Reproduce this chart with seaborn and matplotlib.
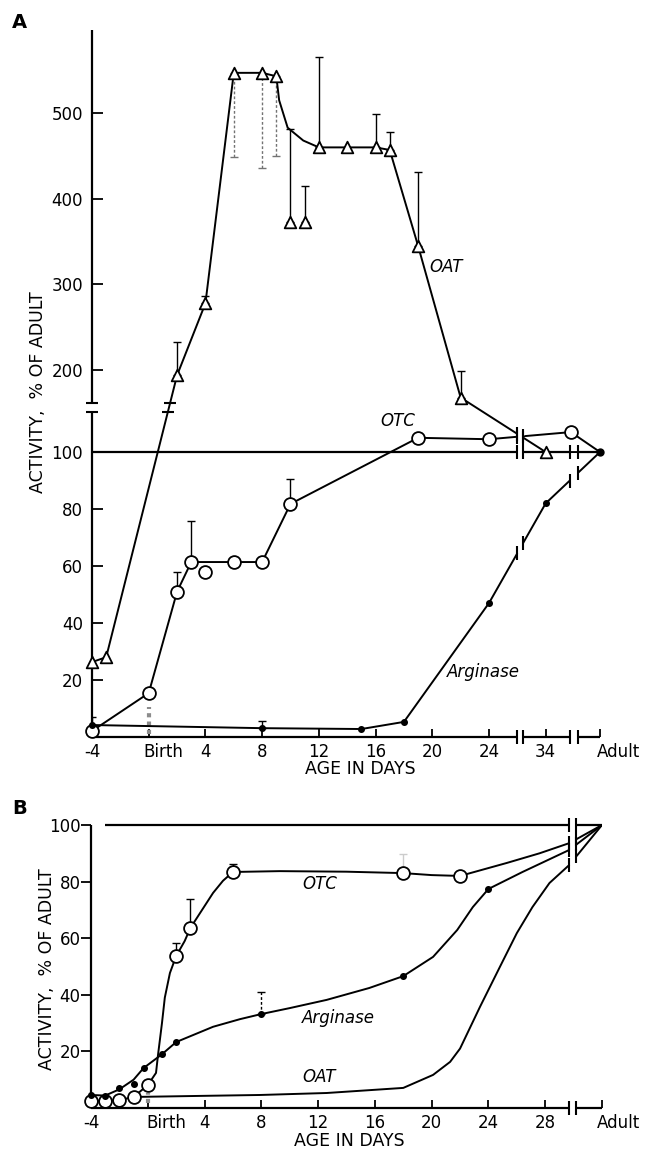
import numpy as np
import matplotlib
matplotlib.use("Agg")
import matplotlib.pyplot as plt
import matplotlib.transforms as mtransforms
import seaborn as sns

sns.set_style("white")
plt.rcParams["font.family"] = ["DejaVu Sans"]
plt.rcParams["font.size"] = 12
for key in ("text.color", "axes.labelcolor", "xtick.color", "ytick.color"):
    plt.rcParams[key] = "black"

ADULT = 60  # numeric stand-in for the "Adult" position on the day axis

# ---------------- Panel A data ----------------
A_OAT_DAYS = [-4, -3, 2, 4, 6, 8, 9, 12, 14, 16, 17, 19, 22, 34]
A_OAT_VALS = [26.3, 28, 194, 278, 547, 547, 543, 460, 460, 460, 457, 345, 168, 100]
A_OAT_LINE_DAYS = [-4, -3, 2, 4, 6, 8, 9, 9.2, 9.8, 10.9, 12, 14, 16, 17, 19, 22, 34, ADULT]
A_OAT_LINE_VALS = [26.3, 28, 194, 278, 547, 547, 543, 515, 483, 468, 460, 460, 460, 457, 345, 168, 100, 100]
A_OAT_LONE_DAYS = [10, 11]
A_OAT_LONE_VALS = [373, 373]
A_OAT_UP_DAYS = [2, 4, 10, 11, 12, 16, 17, 19, 22]
A_OAT_UP_BASE = [194, 278, 373, 373, 460, 460, 457, 345, 168]
A_OAT_UP_TOP = [233, 286, 482, 415, 565, 499, 478, 431, 199]
A_OAT_DN_DAYS = [6, 8, 9]
A_OAT_DN_BASE = [547, 547, 543]
A_OAT_DN_LOW = [449, 436, 450]

A_OTC_DAYS = [-4, 0, 2, 3, 6, 8, 10, 19, 24, 36]
A_OTC_VALS = [2.1, 15.4, 51, 61.4, 61.4, 61.4, 81.8, 105, 104.5, 107]
A_OTC_LONE_DAYS = [4]
A_OTC_LONE_VALS = [58]
A_OTC_UP_DAYS = [2, 3, 10]
A_OTC_UP_BASE = [51, 61.4, 81.8]
A_OTC_UP_TOP = [58, 75.8, 90.5]

A_ARG_DAYS = [-4, 8, 15, 18, 24, 34]
A_ARG_VALS = [4.2, 3.1, 2.8, 5.3, 47, 82]
A_ARG_UP_DAYS = [-4, 8]
A_ARG_UP_BASE = [4.2, 3.1]
A_ARG_UP_TOP = [7.0, 5.5]
A_BIRTH_RANGE = [1.0, 10.5]
ADULT_VALUE = 100

A_XTICKS = [-4, 0, 4, 8, 12, 16, 20, 24, 34, ADULT]
A_XLABELS = ["-4", "Birth", "4", "8", "12", "16", "20", "24", "34", "Adult"]
A_YTICKS = [20, 40, 60, 80, 100, 200, 300, 400, 500]

# ---------------- Panel B data ----------------
B_OTC_DAYS = [-4, -3, -2, -1, 0, 2, 3, 6, 18, 22]
B_OTC_VALS = [2.5, 2.5, 2.8, 3.9, 8.1, 53.7, 63.6, 83.4, 83, 82]
B_OTC_CURVE_DAYS = [-4, -3, -2, -1, 0, 0.58, 0.72, 1.0, 1.2, 1.56, 2, 2.6, 3, 4.6, 5.3, 6,
                    9.3, 14, 18, 20, 22, 25.3, 27.6, 29.7, ADULT]
B_OTC_CURVE_VALS = [2.5, 2.5, 2.8, 3.9, 8.1, 12.4, 18.7, 30, 39, 47.7, 53.7, 59, 63.6, 76, 80.3, 83.4,
                    83.7, 83.5, 83, 82.3, 82, 86.6, 90, 93.6, 100]
B_OTC_UP_DAYS = [2, 3, 6, 18]
B_OTC_UP_BASE = [53.7, 63.6, 83.4, 83]
B_OTC_UP_TOP = [58.3, 73.9, 86.2, 89.8]

B_ARG_DAYS = [-4, -3, -2, -1, -0.3, 1, 2, 8, 18, 24]
B_ARG_VALS = [4.6, 4.2, 7.1, 8.5, 14.1, 19, 23.3, 33.2, 46.6, 77.4]
B_ARG_CURVE_DAYS = [-4, -3, -2, -1, -0.3, 1, 2, 4.6, 6.5, 8, 10, 12.6, 15.6, 18, 20.1, 21.8,
                    22.9, 24, 26.4, 29.7, ADULT]
B_ARG_CURVE_VALS = [4.6, 4.4, 6.6, 10, 14.1, 19, 23.3, 28.7, 31.4, 33.2, 35.3, 38.2, 42.4, 46.6,
                    53.4, 62.9, 71, 77.4, 83.4, 91.2, 100]
B_ARG_UP_DAYS = [8]
B_ARG_UP_BASE = [33.2]
B_ARG_UP_TOP = [41]

B_OAT_CURVE_DAYS = [-1, 4, 7.9, 12.6, 18, 20.1, 21.3, 22, 23.4, 24.8, 26, 27.1, 28.3, 29.7, ADULT]
B_OAT_CURVE_VALS = [3.9, 4.3, 4.6, 5.3, 7.1, 11.7, 16.3, 21, 35.7, 49.8, 61.8, 71, 79.5, 85.9, 100]
B_BIRTH_RANGE = [1.8, 5.3]

B_XTICKS = [-4, 0, 4, 8, 12, 16, 20, 24, 28, ADULT]
B_XLABELS = ["-4", "Birth", "4", "8", "12", "16", "20", "24", "28", "Adult"]
B_YTICKS = [20, 40, 60, 80, 100]

# ---------------- axis breaks (layout) ----------------
A_X_KNOTS_DAY = [-100, 26, 32.4, 35.7, 38, ADULT, 200]
A_X_KNOTS_POS = [-100, 26, 26.4, 29.7, 30.27, 31.83, 171.83]
A_Y_BREAK = (114, 161.5)
A_Y_KNOTS_VAL = [-1000, 114, 161.5, 5000]
A_Y_KNOTS_POS = [-2850, 325, 334, 334 + (5000 - 161.5) * 0.857]
A_YMAX = 597

B_X_KNOTS_DAY = [-100, 29.7, 40, ADULT, 200]
B_X_KNOTS_POS = [-100, 29.7, 30.2, 32.0, 172]

INK = "black"
LW = 1.4


def interp_funcs(k_in, k_out):
    k_in = np.asarray(k_in, float)
    k_out = np.asarray(k_out, float)

    def fwd(v):
        return np.interp(np.asarray(v, float), k_in, k_out)

    def inv(v):
        return np.interp(np.asarray(v, float), k_out, k_in)
    return fwd, inv


def value_at(fx, fy, iy, days, vals, d):
    return float(iy(np.interp(fx(d), fx(days), fy(vals))))


def series_line(ax, days, vals):
    sns.lineplot(x=days, y=vals, ax=ax, color=INK, lw=LW, sort=False,
                 estimator=None, zorder=3)


def series_pts(ax, days, vals, marker, s, filled=False):
    sns.scatterplot(x=days, y=vals, ax=ax, marker=marker, s=s,
                    color=INK if filled else "white", edgecolor=INK,
                    linewidth=1.3, zorder=6, clip_on=False)


def up_bars(ax, days, base, top, color=INK, ls=None):
    base = np.asarray(base, float)
    top = np.asarray(top, float)
    eb = ax.errorbar(days, base, yerr=[np.zeros_like(base), top - base], fmt="none",
                     ecolor=color, elinewidth=1.0, capsize=3, capthick=1.0, zorder=2)
    if ls is not None:
        eb[2][0].set_linestyle(ls)


def down_bars(ax, days, base, low, color=INK, ls=None):
    base = np.asarray(base, float)
    low = np.asarray(low, float)
    eb = ax.errorbar(days, base, yerr=[base - low, np.zeros_like(base)], fmt="none",
                     ecolor=color, elinewidth=1.0, capsize=3, capthick=1.0, zorder=2)
    if ls is not None:
        eb[2][0].set_linestyle(ls)


def seg(ax, xs, ys, lw=1.6, color=INK, z=3):
    ax.plot(xs, ys, color=color, lw=lw, zorder=z, clip_on=False, solid_capstyle="butt")


def marks(ax, xs, ys, marker="|", ms=10):
    ax.plot(xs, ys, ls="none", marker=marker, ms=ms, mew=1.5, color=INK,
            zorder=5, clip_on=False)


def line_break(ax, fx, fy, iy, days, vals, d1, d2):
    y1 = value_at(fx, fy, iy, days, vals, d1)
    y2 = value_at(fx, fy, iy, days, vals, d2)
    seg(ax, [d1, d2], [y1, y2], lw=4, color="white", z=4)
    marks(ax, [d1, d2], [y1, y2])


def shift_label(ax, fig, idx, ha, dx_px):
    lab = ax.xaxis.get_major_ticks()[idx].label1
    lab.set_ha(ha)
    lab.set_transform(lab.get_transform() +
                      mtransforms.ScaledTranslation(dx_px / 100, 0, fig.dpi_scale_trans))


W, H = 647, 1152
fig = plt.figure(figsize=(W / 100, H / 100), dpi=100)

# =============== Panel A ===============
axA = fig.add_axes([92 / W, 1 - 737 / H, (600 - 92) / W, (737 - 30) / H])
fxA, ixA = interp_funcs(A_X_KNOTS_DAY, A_X_KNOTS_POS)
fyA, iyA = interp_funcs(A_Y_KNOTS_VAL, A_Y_KNOTS_POS)
axA.set_xscale("function", functions=(fxA, ixA))
axA.set_yscale("function", functions=(fyA, iyA))
for sp in axA.spines.values():
    sp.set_visible(False)

A_OTC_LINE_DAYS = A_OTC_DAYS + [ADULT]
A_OTC_LINE_VALS = A_OTC_VALS + [ADULT_VALUE]
A_ARG_LINE_DAYS = A_ARG_DAYS + [ADULT]
A_ARG_LINE_VALS = A_ARG_VALS + [ADULT_VALUE]

series_line(axA, A_OAT_LINE_DAYS, A_OAT_LINE_VALS)
series_line(axA, A_OTC_LINE_DAYS, A_OTC_LINE_VALS)
series_line(axA, A_ARG_LINE_DAYS, A_ARG_LINE_VALS)

up_bars(axA, A_OAT_UP_DAYS, A_OAT_UP_BASE, A_OAT_UP_TOP)
down_bars(axA, A_OAT_DN_DAYS, A_OAT_DN_BASE, A_OAT_DN_LOW, color="0.45", ls=(0, (2, 1.5)))
up_bars(axA, A_OTC_UP_DAYS, A_OTC_UP_BASE, A_OTC_UP_TOP)
up_bars(axA, A_ARG_UP_DAYS, A_ARG_UP_BASE, A_ARG_UP_TOP)
axA.plot([0, 0], A_BIRTH_RANGE, color="0.55", lw=3, ls=(0, (1, 1)), zorder=2)

# frame with breaks
b1, b2, b3, b4 = A_X_KNOTS_DAY[1:5]
for y in (0, ADULT_VALUE):
    seg(axA, [-4, b1], [y, y])
    seg(axA, [b2, b3], [y, y])
    seg(axA, [b4, ADULT], [y, y])
    marks(axA, [b1, b2, b3, b4], [y] * 4)
seg(axA, [-4, -4], [0, A_Y_BREAK[0]])
seg(axA, [-4, -4], [A_Y_BREAK[1], A_YMAX])
marks(axA, [-4, -4], list(A_Y_BREAK), marker="_", ms=9)

# break marks on series lines
line_break(axA, fxA, fyA, iyA, A_OTC_LINE_DAYS, A_OTC_LINE_VALS, b1, b2)
line_break(axA, fxA, fyA, iyA, A_OAT_LINE_DAYS, A_OAT_LINE_VALS, b1, b2)
line_break(axA, fxA, fyA, iyA, A_ARG_LINE_DAYS, A_ARG_LINE_VALS, b1, b2)
line_break(axA, fxA, fyA, iyA, A_ARG_LINE_DAYS, A_ARG_LINE_VALS, b3, b4)
# OAT line crossing the y break
for yb in A_Y_BREAK:
    xc = float(ixA(np.interp(fyA(yb), fyA(A_OAT_LINE_VALS[1:3]), fxA(A_OAT_LINE_DAYS[1:3]))))
    marks(axA, [xc], [yb], marker="_", ms=9)

series_pts(axA, A_OAT_DAYS, A_OAT_VALS, "^", 70)
series_pts(axA, A_OAT_LONE_DAYS, A_OAT_LONE_VALS, "^", 70)
series_pts(axA, A_OTC_DAYS, A_OTC_VALS, "o", 85)
series_pts(axA, A_OTC_LONE_DAYS, A_OTC_LONE_VALS, "o", 85)
series_pts(axA, A_ARG_DAYS, A_ARG_VALS, "o", 14, filled=True)
series_pts(axA, [ADULT], [ADULT_VALUE], "o", 22, filled=True)

axA.text(21.0, 320, "OAT", style="italic", ha="center", va="center", fontsize=12)
axA.text(17.6, 111, "OTC", style="italic", ha="center", va="center", fontsize=12)
axA.text(23.6, 22.8, "Arginase", style="italic", ha="center", va="center", fontsize=12)

axA.set_xlim(-4, ADULT)
axA.set_ylim(0, A_YMAX)
axA.set_xticks(A_XTICKS, A_XLABELS)
axA.set_yticks(A_YTICKS, [str(v) for v in A_YTICKS])
axA.minorticks_off()
axA.tick_params(axis="y", direction="in", length=8, width=1.3, pad=6.5, labelsize=12, left=True)
axA.tick_params(axis="x", direction="in", length=6, width=1.3, pad=4.3, labelsize=12, bottom=True)
axA.set_xlabel("")
axA.set_ylabel("")
shift_label(axA, fig, 1, "left", -5)
shift_label(axA, fig, len(A_XTICKS) - 1, "left", -3)

# =============== Panel B ===============
axB = fig.add_axes([91 / W, 1 - 1108 / H, (602 - 91) / W, (1108 - 825) / H])
fxB, ixB = interp_funcs(B_X_KNOTS_DAY, B_X_KNOTS_POS)
axB.set_xscale("function", functions=(fxB, ixB))
for sp in axB.spines.values():
    sp.set_visible(False)

series_line(axB, B_OTC_CURVE_DAYS, B_OTC_CURVE_VALS)
series_line(axB, B_ARG_CURVE_DAYS, B_ARG_CURVE_VALS)
series_line(axB, B_OAT_CURVE_DAYS, B_OAT_CURVE_VALS)

up_bars(axB, B_OTC_UP_DAYS[:3], B_OTC_UP_BASE[:3], B_OTC_UP_TOP[:3])
up_bars(axB, B_OTC_UP_DAYS[3:], B_OTC_UP_BASE[3:], B_OTC_UP_TOP[3:], color="0.8")
up_bars(axB, B_ARG_UP_DAYS, B_ARG_UP_BASE, B_ARG_UP_TOP, ls=(0, (2, 1.5)))
axB.plot([0, 0], B_BIRTH_RANGE, color="0.55", lw=3, ls=(0, (1, 1)), zorder=2)

c1, c2 = B_X_KNOTS_DAY[1:3]
fyB = lambda v: np.asarray(v, float)
seg(axB, [-4, c1], [0, 0])
seg(axB, [c2, ADULT], [0, 0])
marks(axB, [c1, c2], [0, 0])
seg(axB, [-3, c1], [ADULT_VALUE, ADULT_VALUE])
seg(axB, [c2, ADULT], [ADULT_VALUE, ADULT_VALUE])
marks(axB, [c1, c2], [ADULT_VALUE, ADULT_VALUE])
seg(axB, [-4, -4], [0, 100])
for d, v in ((B_OTC_CURVE_DAYS, B_OTC_CURVE_VALS), (B_ARG_CURVE_DAYS, B_ARG_CURVE_VALS),
             (B_OAT_CURVE_DAYS, B_OAT_CURVE_VALS)):
    line_break(axB, fxB, fyB, fyB, d, v, c1, c2)

series_pts(axB, B_OTC_DAYS, B_OTC_VALS, "o", 85)
series_pts(axB, B_ARG_DAYS, B_ARG_VALS, "o", 14, filled=True)

axB.text(10.86, 79, "OTC", style="italic", ha="left", va="center", fontsize=12)
axB.text(10.86, 31.8, "Arginase", style="italic", ha="left", va="center", fontsize=12)
axB.text(10.86, 11, "OAT", style="italic", ha="left", va="center", fontsize=12)

axB.set_xlim(-4, ADULT)
axB.set_ylim(0, 100)
axB.set_xticks(B_XTICKS, B_XLABELS)
axB.set_yticks(B_YTICKS, [str(v) for v in B_YTICKS])
axB.minorticks_off()
axB.tick_params(axis="y", direction="out", length=7, width=1.3, pad=0.5, labelsize=12, left=True)
axB.tick_params(axis="x", direction="in", length=6, width=1.3, pad=4.3, labelsize=12, bottom=True)
axB.set_xlabel("")
axB.set_ylabel("")
shift_label(axB, fig, 1, "left", -1)
shift_label(axB, fig, len(B_XTICKS) - 1, "left", -5)

# =============== labels ===============
fig.text(12 / W, 1 - 22 / H, "A", fontsize=14, fontweight="bold", ha="left", va="center")
fig.text(12 / W, 1 - 808 / H, "B", fontsize=14, fontweight="bold", ha="left", va="center")
fig.text(360 / W, 1 - 769 / H, "AGE IN DAYS", ha="center", va="center", fontsize=12.5)
fig.text(349 / W, 1 - 1141 / H, "AGE IN DAYS", ha="center", va="center", fontsize=12.5)
fig.text(38 / W, 1 - 392 / H, "ACTIVITY,  % OF ADULT", rotation=90, ha="center", va="center", fontsize=12.5)
fig.text(47 / W, 1 - 969 / H, "ACTIVITY,  % OF ADULT", rotation=90, ha="center", va="center", fontsize=12.5)

fig.savefig("out.png", dpi=100, facecolor="white")
